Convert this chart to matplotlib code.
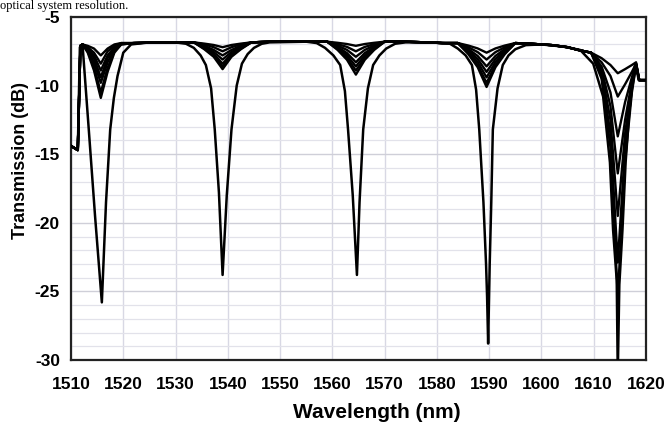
import numpy as np
import matplotlib
matplotlib.use("Agg")
import matplotlib.pyplot as plt
from matplotlib.ticker import MultipleLocator

plt.rcParams['font.family'] = ['Liberation Sans', 'DejaVu Sans']
plt.rcParams['axes.unicode_minus'] = False

# ---- deep trace (all notches deep) ----
deep_wl = [1510.0, 1511.3, 1511.7, 1512.2, 1513.4, 1514.6, 1515.9, 1516.7, 1517.5, 1518.2,
           1518.9, 1520.0, 1521.5, 1525.0, 1530.0, 1532.0, 1533.5, 1534.8, 1535.8, 1536.8,
           1537.5, 1538.3, 1539.0, 1539.8, 1540.7, 1541.7, 1542.7, 1543.8, 1545.0, 1546.5,
           1548.0, 1555.0, 1557.0, 1558.6, 1560.2, 1561.5, 1562.4, 1563.0, 1563.9, 1564.7,
           1565.2, 1565.9, 1566.8, 1567.8, 1569.0, 1570.3, 1572.0, 1574.0, 1580.0, 1582.5,
           1584.0, 1585.5, 1586.7, 1587.5, 1588.1, 1588.9, 1589.4, 1589.6, 1589.8, 1590.1,
           1590.4, 1590.7, 1591.6, 1592.6, 1593.7, 1595.0, 1597.0, 1600.0, 1604.0, 1607.4,
           1609.9, 1611.8, 1613.1, 1613.7, 1614.4, 1614.6, 1614.9, 1615.5, 1616.1, 1616.8,
           1617.6, 1618.0, 1618.6, 1620.0]
deep_db = [-14.4, -14.7, -7.2, -7.0, -13.2, -19.5, -25.8, -18.5, -13.2, -10.9,
           -9.3, -7.6, -7.0, -6.85, -6.85, -6.95, -7.25, -7.8, -8.5, -10.2,
           -13.2, -17.8, -23.8, -18.0, -13.2, -10.0, -8.4, -7.7, -7.25, -6.95,
           -6.85, -6.8, -6.9, -7.25, -7.8, -8.5, -10.4, -13.2, -18.0, -23.8,
           -18.5, -13.2, -10.2, -8.5, -7.8, -7.3, -6.95, -6.85, -6.85, -6.95,
           -7.3, -7.8, -8.5, -10.3, -13.2, -18.5, -23.0, -25.4, -28.8, -23.0,
           -18.5, -13.2, -10.2, -8.5, -7.8, -7.35, -7.05, -7.0, -7.15, -7.4,
           -8.4, -10.8, -15.6, -20.5, -24.2, -31.0, -24.5, -20.5, -15.6, -11.9,
           -9.0, -8.4, -9.6, -9.6]

# ---- shallow traces: shared baseline pieces between the notches ----
left_wl = [1510.0, 1511.3, 1511.8]
left_db = [-14.4, -14.7, -7.1]
gap1_wl = [1522.0, 1527.0, 1531.0]
gap1_db = [-6.9, -6.85, -6.85]
gap2_wl = [1548.0, 1553.0, 1556.0]
gap2_db = [-6.8, -6.8, -6.8]
gap3_wl = [1574.0, 1578.0, 1581.0]
gap3_db = [-6.8, -6.85, -6.9]
gap4_wl = [1598.0, 1602.0, 1605.0, 1607.0]
gap4_db = [-6.95, -7.05, -7.2, -7.4]

# notch samples, one row per trace
dip1_wl = [1512.2, 1513.2, 1514.4, 1515.7, 1517.0, 1518.3, 1519.6]
dip1_db = [
    [-7.0, -7.1, -7.3, -7.8, -7.3, -7.0, -6.9],
    [-7.0, -7.2, -7.6, -8.4, -7.5, -7.1, -6.9],
    [-7.0, -7.3, -7.8, -8.9, -7.8, -7.2, -6.95],
    [-7.0, -7.35, -8.0, -9.4, -8.0, -7.3, -6.95],
    [-7.0, -7.4, -8.3, -9.8, -8.3, -7.4, -6.95],
    [-7.0, -7.5, -8.6, -10.5, -8.7, -7.5, -7.0],
    [-7.0, -7.6, -8.9, -10.9, -9.0, -7.6, -7.0],
]
dip2_wl = [1533.5, 1535.5, 1537.3, 1539.0, 1540.7, 1542.5, 1544.5]
dip2_db = [
    [-6.85, -6.94, -7.04, -7.2, -7.04, -6.94, -6.85],
    [-6.85, -7.0, -7.2, -7.5, -7.2, -7.0, -6.85],
    [-6.85, -7.1, -7.4, -7.8, -7.4, -7.1, -6.85],
    [-6.85, -7.15, -7.55, -8.1, -7.55, -7.15, -6.85],
    [-6.85, -7.25, -7.7, -8.4, -7.7, -7.25, -6.85],
    [-6.85, -7.3, -7.8, -8.6, -7.8, -7.3, -6.85],
    [-6.85, -7.35, -7.9, -8.8, -7.9, -7.35, -6.85],
]
dip3_wl = [1559.0, 1561.0, 1562.8, 1564.5, 1566.2, 1568.0, 1570.0]
dip3_db = [
    [-6.8, -6.88, -6.97, -7.1, -6.97, -6.88, -6.8],
    [-6.8, -6.98, -7.18, -7.5, -7.18, -6.98, -6.8],
    [-6.8, -7.08, -7.4, -7.9, -7.4, -7.08, -6.8],
    [-6.8, -7.18, -7.63, -8.3, -7.63, -7.18, -6.8],
    [-6.8, -7.25, -7.8, -8.6, -7.8, -7.25, -6.8],
    [-6.8, -7.33, -7.96, -8.9, -7.96, -7.33, -6.8],
    [-6.8, -7.4, -8.12, -9.2, -8.12, -7.4, -6.8],
]
dip4_wl = [1584.0, 1586.0, 1587.8, 1589.5, 1591.2, 1593.0, 1595.0]
dip4_db = [
    [-6.9, -7.08, -7.29, -7.6, -7.29, -7.08, -6.9],
    [-6.9, -7.2, -7.56, -8.1, -7.56, -7.2, -6.9],
    [-6.9, -7.33, -7.84, -8.6, -7.84, -7.33, -6.9],
    [-6.9, -7.43, -8.06, -9.0, -8.06, -7.43, -6.9],
    [-6.9, -7.53, -8.28, -9.4, -8.28, -7.53, -6.9],
    [-6.9, -7.63, -8.5, -9.8, -8.5, -7.63, -6.9],
    [-6.9, -7.7, -8.66, -10.1, -8.66, -7.7, -6.9],
]
dip5_wl = [1609.5, 1611.5, 1613.2, 1614.6, 1616.0, 1617.3, 1618.1, 1618.7, 1620.0]
dip5_db = [
    [-7.6, -8.0, -8.5, -9.1, -8.8, -8.5, -8.3, -9.6, -9.6],
    [-7.6, -8.3, -9.3, -10.8, -9.9, -9.0, -8.4, -9.6, -9.6],
    [-7.6, -8.6, -10.5, -13.7, -11.2, -9.4, -8.4, -9.6, -9.6],
    [-7.6, -8.8, -11.5, -16.4, -12.5, -9.7, -8.4, -9.6, -9.6],
    [-7.6, -9.0, -12.5, -19.5, -13.5, -10.0, -8.5, -9.6, -9.6],
    [-7.6, -9.3, -13.5, -22.9, -14.5, -10.3, -8.5, -9.6, -9.6],
    [-7.6, -9.5, -14.5, -25.4, -15.5, -10.5, -8.5, -9.6, -9.6],
]

fig = plt.figure(figsize=(6.7, 4.23), dpi=100)
ax = fig.add_axes([71 / 670, 1 - 360 / 423, 575 / 670, 343 / 423])

for i in range(len(dip1_db)):
    x = (left_wl + dip1_wl + gap1_wl + dip2_wl + gap2_wl + dip3_wl
         + gap3_wl + dip4_wl + gap4_wl + dip5_wl)
    y = (left_db + dip1_db[i] + gap1_db + dip2_db[i] + gap2_db + dip3_db[i]
         + gap3_db + dip4_db[i] + gap4_db + dip5_db[i])
    ax.plot(x, y, color='black', lw=1.7, zorder=3)

ax.plot(deep_wl, deep_db, color='black', lw=1.8, zorder=3)

ax.set_xlim(1510, 1620)
ax.set_ylim(-30, -5)
ax.xaxis.set_major_locator(MultipleLocator(10))
ax.yaxis.set_major_locator(MultipleLocator(5))
ax.yaxis.set_minor_locator(MultipleLocator(1))

ax.grid(which='major', axis='x', color='#d8d8e4', lw=1.0)
ax.grid(which='major', axis='y', color='#cfcfd8', lw=1.0)
ax.grid(which='minor', axis='y', color='#e2e2ea', lw=0.9)
ax.set_axisbelow(True)

ax.tick_params(which='both', length=0, labelsize=12.5)
ax.tick_params(axis='x', pad=12)
ax.tick_params(axis='y', pad=8)
for lab in ax.get_xticklabels() + ax.get_yticklabels():
    lab.set_fontweight('bold')
for s in ax.spines.values():
    s.set_linewidth(1.6)
    s.set_color('#222222')

ax.set_xlabel('Wavelength (nm)', fontsize=15, fontweight='bold', va='center')
ax.xaxis.set_label_coords(0.532, -0.152)
ax.set_ylabel('Transmission (dB)', fontsize=13, fontweight='bold', va='center')
ax.yaxis.set_label_coords(-0.087, 0.583)

# caption line above the chart
fig.text(0.0, 1.0, 'optical system resolution.', family='Liberation Serif',
         fontsize=9, va='top', ha='left')

fig.savefig('out.png', dpi=100)
